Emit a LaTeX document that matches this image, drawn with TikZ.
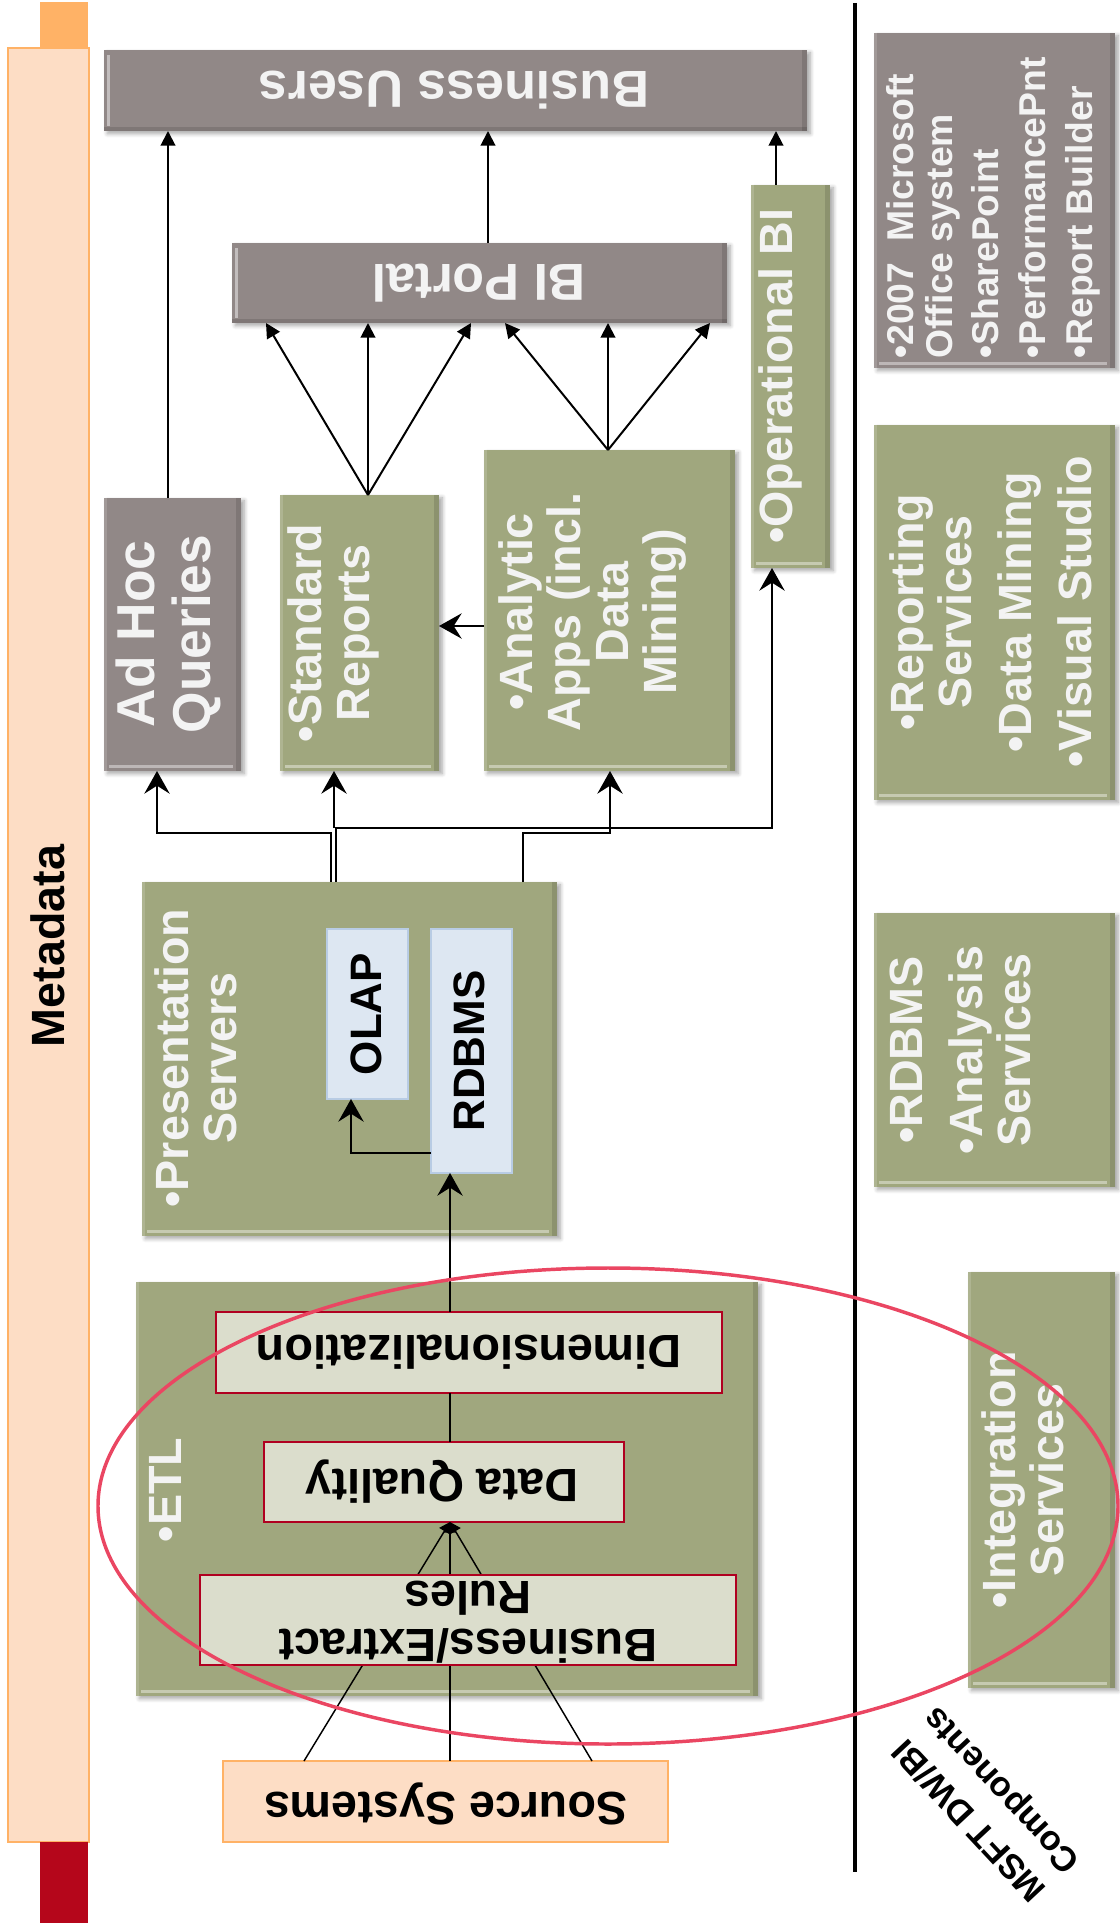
\documentclass[tikz,border=0pt]{standalone}
\usepackage{fontspec}
\setmainfont{Liberation Sans}
\usetikzlibrary{fit,arrows.meta,shadows.blur}

\definecolor{boxgray}{RGB}{145,136,135}
\definecolor{boxgreen}{RGB}{160,167,126}
\definecolor{txtlight}{RGB}{243,243,243}
\definecolor{peach}{RGB}{253,221,197}
\definecolor{peachline}{RGB}{255,178,102}
\definecolor{tabred}{RGB}{181,6,27}
\definecolor{olapfill}{RGB}{221,231,242}
\definecolor{olapline}{RGB}{184,204,228}
\definecolor{stepfill}{RGB}{219,221,204}
\definecolor{stepline}{RGB}{176,0,32}
\definecolor{ringred}{RGB}{234,70,98}

\begin{document}
\begin{tikzpicture}[x=0.75pt,y=-0.75pt,
  plainbox/.style={inner sep=0pt,outer sep=0pt},
  boxshadow/.style={blur shadow={shadow xshift=2.5pt,shadow yshift=-2pt,
      shadow blur radius=3pt,shadow blur steps=6,shadow opacity=35}},
  bevelbottom/.style={path picture={
      \fill[white,opacity=.4] ([xshift=4pt,yshift=2pt]path picture bounding box.south west)
        rectangle ([xshift=-6pt,yshift=4.5pt]path picture bounding box.south east);
      \fill[black,opacity=.12] ([xshift=-4pt]path picture bounding box.south east)
        rectangle (path picture bounding box.north east);
      \fill[white,opacity=.15] (path picture bounding box.south west)
        rectangle ([xshift=2pt]path picture bounding box.north west);}},
  bevelleft/.style={path picture={
      \fill[white,opacity=.45] ([xshift=2pt,yshift=4pt]path picture bounding box.south west)
        rectangle ([xshift=4.5pt,yshift=-4pt]path picture bounding box.north west);
      \fill[black,opacity=.12] (path picture bounding box.south west)
        rectangle ([yshift=3pt]path picture bounding box.south east);
      \fill[black,opacity=.12] ([xshift=-4pt]path picture bounding box.south east)
        rectangle (path picture bounding box.north east);}},
  graybox/.style={plainbox,boxshadow,fill=boxgray},
  greenbox/.style={plainbox,boxshadow,fill=boxgreen,bevelbottom},
  stepbox/.style={plainbox,fill=stepfill,draw=stepline,line width=2pt},
  dbbox/.style={plainbox,fill=olapfill,draw=olapline,line width=1.5pt},
  lighttext/.style={inner sep=0pt,text=txtlight,align=center},
  darktext/.style={inner sep=0pt,text=black,align=center},
  fbig/.style={font=\bfseries\fontsize{39}{42}\selectfont},
  fadhoc/.style={font=\bfseries\fontsize{40}{42}\selectfont},
  fmid/.style={font=\bfseries\fontsize{35}{36}\selectfont},
  fdb/.style={font=\bfseries\fontsize{33}{35}\selectfont},
  fsmall/.style={font=\bfseries\fontsize{28}{29}\selectfont},
  flabel/.style={font=\bfseries\fontsize{26}{33}\selectfont},
  conn/.style={line width=1.5pt},
  thinconn/.style={line width=1.1pt},
  headtri/.style={-{Triangle[length=11pt,width=11pt]}},
  headstl/.style={-{Stealth[length=17pt,width=19pt,inset=6pt]}},
  headsmall/.style={-{Triangle[length=8pt,width=9pt]}},
  ring/.style={draw=ringred,line width=2.6pt}
]
\useasboundingbox (0,0) rectangle (1120,1923);

% Metadata bar with its two end tabs
\node[plainbox,fill=peachline,fit={(40,2)(88,48)}] (metatab) {};
\node[plainbox,fill=peach,draw=peachline,line width=1.5pt,fit={(8,48)(89,1842)}] (meta) {};
\node[plainbox,fill=tabred,fit={(40,1842)(88,1923)}] (metafoot) {};

% separator between architecture and product columns
\draw[line width=3.2pt] (855,3) -- (855,1872);

% consumers
\node[graybox,bevelleft,fit={(104,50)(807,131)}] (bu) {};
\node[graybox,bevelleft,fit={(232,243)(727,323)}] (portal) {};
\node[graybox,bevelbottom,fit={(104,498)(241,771)}] (adhoc) {};
\node[greenbox,fit={(280,495)(439,771)}] (stdrep) {};
\node[greenbox,fit={(484,450)(735,771)}] (analytic) {};
\node[greenbox,fit={(751,185)(830,568)}] (opbi) {};

% presentation servers
\node[greenbox,fit={(142,882)(557,1236)}] (pres) {};
\node[dbbox,fit={(327,929)(408,1099)}] (olap) {};
\node[dbbox,fit={(431,929)(512,1173)}] (rdbms) {};

% ETL
\node[greenbox,fit={(136,1282)(758,1696)}] (etl) {};
\node[stepbox,fit={(216,1312)(722,1393)}] (dim) {};
\node[stepbox,fit={(264,1442)(624,1522)}] (dq) {};
\node[plainbox,fill=peach,draw=peachline,line width=1.5pt,fit={(223,1761)(668,1842)}] (src) {};

% product column
\node[graybox,bevelbottom,fit={(874,33)(1115,368)}] (r1) {};
\node[greenbox,fit={(874,425)(1115,800)}] (r2) {};
\node[greenbox,fit={(874,913)(1115,1187)}] (r3) {};
\node[greenbox,fit={(968,1272)(1115,1688)}] (r4) {};

% connectors into Business Users and BI Portal
\draw[conn,headtri] (adhoc.north -| 168,0) -- (bu.south -| 168,0);
\draw[conn,headtri] (portal.north -| 488,0) -- (bu.south -| 488,0);
\draw[conn,headtri] (opbi.north -| 776,0) -- (bu.south -| 776,0);
\foreach \xx in {266,368,471}
  \draw[conn,headtri] (stdrep.north -| 368,0) -- (portal.south -| \xx,0);
\foreach \xx in {505,608,710}
  \draw[conn,headtri] (analytic.north -| 608,0) -- (portal.south -| \xx,0);
\draw[conn,headstl] (analytic.west |- 0,626) -- (stdrep.east |- 0,626);

% presentation servers feed the front ends
\draw[conn,headstl] (pres.north -| 331,0) -- (331,833) -| (adhoc.south -| 157,0);
\draw[conn,headstl] (pres.north -| 336,0) -- (336,828) -| (opbi.south -| 772,0);
\coordinate (split) at (334,828);
\draw[conn,headstl] (split) -- (stdrep.south -| 334,0);
\draw[conn,headstl] (pres.north -| 523,0) -- (523,833) -| (analytic.south -| 610,0);
\draw[conn,headstl] (rdbms.west |- 0,1153) -| (olap.south -| 351,0);

% ETL flow
\draw[conn,headstl] (dim.north -| 450,0) -- (rdbms.south -| 450,0);
\draw[thinconn] (dq.north -| 450,0) -- (dim.south -| 450,0);
\foreach \xx in {304,450,592}
  \draw[thinconn,headsmall] (src.north -| \xx,0) -- (dq.south -| 450,0);
\node[stepbox,fit={(200,1575)(736,1665)}] (ber) {};

% labels
\node[darktext,fmid,rotate=90] (meta-t) at (48,946) {Metadata};
\node[lighttext,fbig,rotate=180] (bu-t) at (454,90) {Business Users};
\node[lighttext,fbig,rotate=180] (portal-t) at (479,283) {BI Portal};
\node[lighttext,fadhoc,rotate=90] (adhoc-t) at (168,634) {Ad Hoc\\Queries};
\node[lighttext,fmid,rotate=90] (stdrep-t) at (333,633) {•Standard\\Reports};
\node[lighttext,fmid,rotate=90] (analytic-t) at (593,612) {•Analytic\\Apps (incl.\\Data\\Mining)};
\node[lighttext,fmid,rotate=90] (opbi-t) at (780,376) {•Operational BI};
\node[lighttext,fmid,rotate=90] (pres-t) at (196,1058) {•Presentation\\Servers};
\node[darktext,fdb,rotate=90] (olap-t) at (366,1014) {OLAP};
\node[darktext,fdb,rotate=90] (rdbms-t) at (469,1051) {RDBMS};
\node[lighttext,fmid,rotate=90] (etl-t) at (165,1490) {•ETL};
\node[darktext,fmid,rotate=180] (dim-t) at (469,1352) {Dimensionalization};
\node[darktext,fmid,rotate=180] (dq-t) at (442,1482) {Data Quality};
\node[darktext,fmid,rotate=180] (ber-t) at (468,1622) {Business/Extract\\Rules};
\node[darktext,fmid,rotate=180] (src-t) at (446,1804) {Source Systems};

\node[lighttext,fsmall,rotate=90,align=left,anchor=west] (r1-t) at (993,359)
  {•2007\ \ Microsoft\\Office system\\[6pt]•SharePoint\\[6pt]•PerformancePnt\\[6pt]•Report Builder};
\node[lighttext,fmid,rotate=90] (r2-t) at (991,612)
  {•Reporting\\Services\\[9pt]•Data Mining\\[9pt]•Visual Studio};
\node[lighttext,fmid,rotate=90] (r3-t) at (960,1050) {•RDBMS\\[9pt]•Analysis\\Services};
\node[lighttext,fmid,rotate=90] (r4-t) at (1023,1480) {•Integration\\Services};
\node[darktext,flabel,rotate=133] (msft-t) at (987,1804) {MSFT DW/BI\\Components};

% ring around the ETL stage and its product
\draw[ring] (608,1506) ellipse [x radius=510, y radius=238];
\end{tikzpicture}
\end{document}
